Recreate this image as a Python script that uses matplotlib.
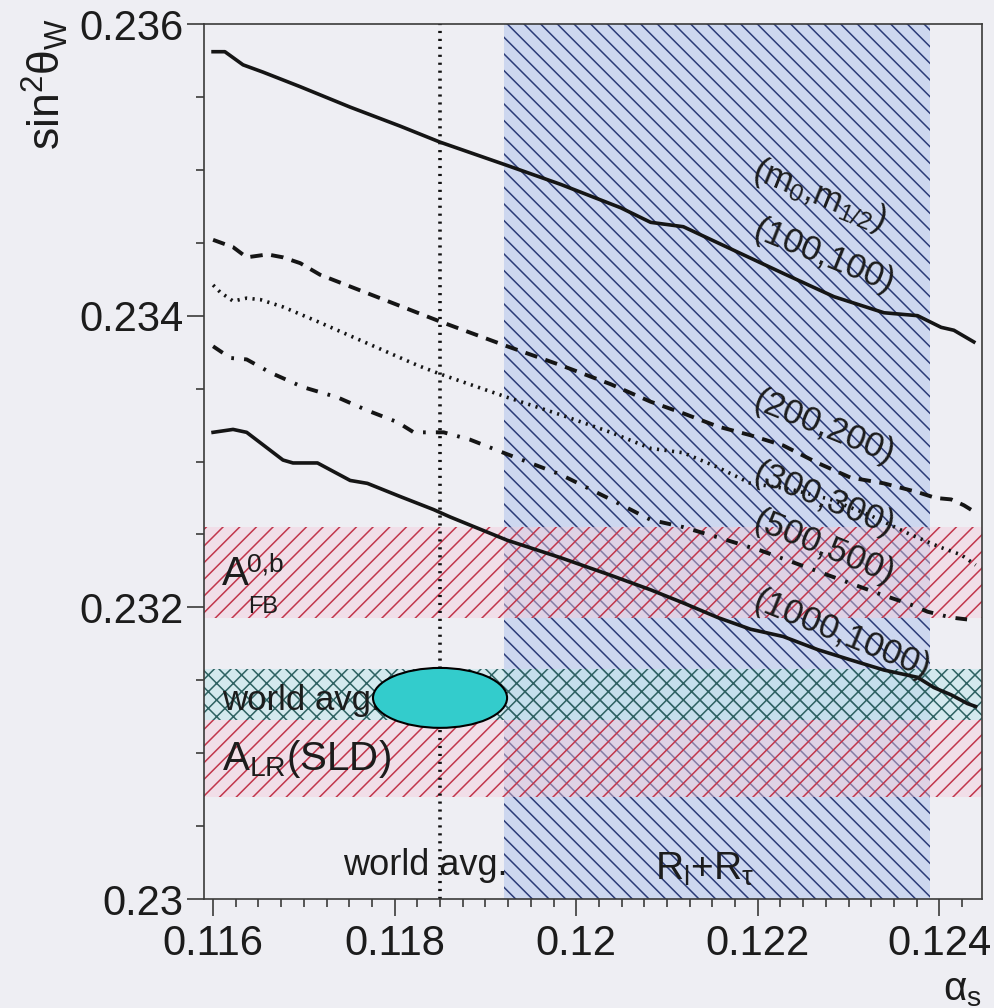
import matplotlib
matplotlib.use("Agg")
import matplotlib.pyplot as plt
from matplotlib.patches import Ellipse
from matplotlib.ticker import MultipleLocator, FuncFormatter

plt.rcParams['font.family'] = ['Liberation Sans', 'DejaVu Sans']
plt.rcParams['mathtext.fontset'] = 'custom'
plt.rcParams['mathtext.rm'] = 'Liberation Sans'
plt.rcParams['mathtext.it'] = 'Liberation Sans'
plt.rcParams['mathtext.bf'] = 'Liberation Sans:bold'
plt.rcParams['hatch.linewidth'] = 1.1

# sin^2 theta_W versus alpha_s for several (m0, m1/2) points
as_100 = [0.1160, 0.11613, 0.11633, 0.11655, 0.11696, 0.11751, 0.11806, 0.11850, 0.11924, 0.11983,
          0.12049, 0.12082, 0.12118, 0.12173, 0.12228, 0.12284, 0.12339, 0.12376, 0.12402, 0.12416, 0.12438]
sw_100 = [0.23581, 0.23581, 0.23572, 0.23567, 0.23557, 0.23543, 0.23530, 0.23519, 0.23503, 0.23490,
          0.23474, 0.23464, 0.23461, 0.23445, 0.23429, 0.23413, 0.23402, 0.23400, 0.23392, 0.23390, 0.23382]

as_200 = [0.1160, 0.11622, 0.11637, 0.11660, 0.11677, 0.11696, 0.11718, 0.11784, 0.11850, 0.11924,
          0.11983, 0.12038, 0.12082, 0.12118, 0.12156, 0.12192, 0.12228, 0.12266, 0.12302, 0.12339,
          0.12376, 0.12396, 0.12413, 0.12427, 0.12440]
sw_200 = [0.23452, 0.23447, 0.23440, 0.23442, 0.23440, 0.23436, 0.23428, 0.23412, 0.23396, 0.23379,
          0.23366, 0.23353, 0.23341, 0.23333, 0.23324, 0.23318, 0.23311, 0.23299, 0.23289, 0.23285,
          0.23279, 0.23275, 0.23274, 0.23270, 0.23265]

as_300 = [0.1160, 0.11608, 0.11622, 0.11637, 0.11652, 0.11677, 0.11715, 0.11770, 0.11825, 0.11850,
          0.11924, 0.11983, 0.12038, 0.12082, 0.12118, 0.12156, 0.12192, 0.12236, 0.12280, 0.12324,
          0.12368, 0.12402, 0.12424, 0.12440]
sw_300 = [0.23421, 0.23416, 0.23410, 0.23412, 0.23411, 0.23406, 0.23396, 0.23381, 0.23366, 0.23360,
          0.23344, 0.23332, 0.23320, 0.23309, 0.23306, 0.23296, 0.23285, 0.23281, 0.23274, 0.23263,
          0.23250, 0.23241, 0.23236, 0.23229]

as_500 = [0.1160, 0.11619, 0.11637, 0.11663, 0.11699, 0.11737, 0.11770, 0.11803, 0.11821, 0.11854,
          0.11883, 0.11924, 0.11983, 0.12038, 0.12082, 0.12118, 0.12156, 0.12203, 0.12247, 0.12291,
          0.12335, 0.12368, 0.12387, 0.12413, 0.12440]
sw_500 = [0.23379, 0.23371, 0.23370, 0.23361, 0.23351, 0.23344, 0.23335, 0.23327, 0.23320, 0.23320,
          0.23315, 0.23305, 0.23291, 0.23274, 0.23260, 0.23255, 0.23248, 0.23239, 0.23229, 0.23219,
          0.23209, 0.23202, 0.23197, 0.23193, 0.23191]

as_1000 = [0.1160, 0.11622, 0.11637, 0.11677, 0.11688, 0.11715, 0.11751, 0.11770, 0.11806, 0.11843,
           0.11861, 0.11924, 0.11983, 0.12038, 0.12082, 0.12118, 0.12156, 0.12192, 0.12228, 0.12266,
           0.12302, 0.12339, 0.12376, 0.12394, 0.12413, 0.12431, 0.12440]
sw_1000 = [0.23320, 0.23322, 0.23320, 0.23301, 0.23299, 0.23299, 0.23287, 0.23285, 0.23276, 0.23267,
           0.23262, 0.23246, 0.23234, 0.23222, 0.23212, 0.23203, 0.23193, 0.23185, 0.23180, 0.23171,
           0.23164, 0.23157, 0.23152, 0.23145, 0.23140, 0.23134, 0.23132]

curve_labels = ['(100,100)', '(200,200)', '(300,300)', '(500,500)', '(1000,1000)']
label_as = [0.12273, 0.12273, 0.12273, 0.12273, 0.12293]
label_sw = [0.234403, 0.233230, 0.232737, 0.232407, 0.231811]

# measurement bands
afb_band = [0.23193, 0.23255]
world_band = [0.23123, 0.23158]
alr_band = [0.2307, 0.23123]
rl_rtau_band = [0.1192, 0.1239]
as_world = 0.1185

bg = '#eeeef3'
fig = plt.figure(figsize=(9.94, 10.08), dpi=100, facecolor=bg)
ax = fig.add_axes([204 / 994, 1 - 899 / 1008, (982 - 204) / 994, (899 - 24) / 1008])
ax.set_facecolor(bg)
ax.set_xlim(0.1159, 0.12447)
ax.set_ylim(0.230, 0.236)

ax.axvspan(*rl_rtau_band, facecolor='#cdd7ef', edgecolor='#2b3b78', hatch='\\\\', lw=0, zorder=1)
for lo, hi in (afb_band, alr_band):
    ax.axhspan(lo, hi, facecolor=(0.96, 0.80, 0.86, 0.45), edgecolor='#c2364c', hatch='//', lw=0, zorder=2)
ax.axhspan(*world_band, facecolor=(0.75, 0.90, 0.92, 0.55), edgecolor='#2e6262', hatch='xx', lw=0, zorder=3)

ax.axvline(as_world, color='#111111', lw=2.6, ls=(0, (0.6, 1.6)), zorder=4)

ink = '#151515'
ax.plot(as_100, sw_100, color=ink, lw=2.6, zorder=5)
ax.plot(as_200, sw_200, color=ink, lw=2.8, ls=(0, (3.2, 2.2)), zorder=5)
ax.plot(as_300, sw_300, color=ink, lw=2.6, ls=(0, (0.6, 1.5)), zorder=5)
ax.plot(as_500, sw_500, color=ink, lw=2.8, ls=(0, (3.0, 2.6, 0.7, 2.6)), zorder=5)
ax.plot(as_1000, sw_1000, color=ink, lw=2.6, zorder=5)

for txt, xa, ya in zip(curve_labels, label_as, label_sw):
    ax.text(xa, ya, txt, rotation=-22, ha='center', va='center', fontsize=25, color='#1c1c1c', zorder=6)
ax.text(0.12267, 0.234829, r'(m$_0$,m$_{1/2}$)', rotation=-22, ha='center', va='center',
        fontsize=25, color='#1c1c1c', zorder=6)

# band names on the left
ax.text(0.1161, 0.232154, 'A', fontsize=29, ha='left', va='baseline', color='#1c1c1c', zorder=6)
ax.text(0.11637, 0.232243, '0,b', fontsize=19, ha='left', va='baseline', color='#1c1c1c', zorder=6)
ax.text(0.11639, 0.231962, 'FB', fontsize=17, ha='left', va='baseline', color='#1c1c1c', zorder=6)
ax.text(0.1161, 0.231296, 'world avg.', fontsize=25, ha='left', va='baseline', color='#1c1c1c', zorder=6)
ax.text(0.1161, 0.230885, r'A$_{\rm LR}$(SLD)', fontsize=29, ha='left', va='baseline', color='#1c1c1c', zorder=6)

ax.text(0.11834, 0.23023, 'world avg.', fontsize=26, ha='center', va='center', color='#1c1c1c', zorder=6)
ax.text(0.12142, 0.23020, r'R$_{\rm l}$+R$_{\tau}$', fontsize=28, ha='center', va='center', color='#1c1c1c', zorder=6)

ax.add_patch(Ellipse((as_world, 0.231379), 0.001477, 0.000411, facecolor='#33cccc',
                     edgecolor='black', lw=1.5, zorder=10))

# axes and ticks
for s in ax.spines.values():
    s.set_color('#3a3a3a')
    s.set_linewidth(1.2)
    s.set_zorder(7)
ax.xaxis.set_major_locator(MultipleLocator(0.002))
ax.xaxis.set_minor_locator(MultipleLocator(0.00025))
ax.yaxis.set_major_locator(MultipleLocator(0.002))
ax.yaxis.set_minor_locator(MultipleLocator(0.0005))
fmt = FuncFormatter(lambda v, p: '%g' % round(v, 4))
ax.xaxis.set_major_formatter(fmt)
ax.yaxis.set_major_formatter(fmt)
ax.tick_params(which='both', direction='out', colors='#3a3a3a', labelcolor='#1c1c1c', width=1.2)
ax.tick_params(which='major', length=12, labelsize=30)
ax.tick_params(which='minor', length=6)
ax.tick_params(axis='y', which='major', pad=3)
ax.tick_params(axis='x', which='major', pad=6)

fig.text(45 / 994, 1 - 18 / 1008, r'sin$^2\theta_{\rm W}$', rotation=90, ha='center', va='top',
         fontsize=32, color='#1c1c1c')
fig.text(962 / 994, 1 - 990 / 1008, r'$\alpha_{\rm s}$', ha='center', va='center', fontsize=29, color='#1c1c1c')

fig.savefig('out.png', dpi=100, facecolor=bg)
